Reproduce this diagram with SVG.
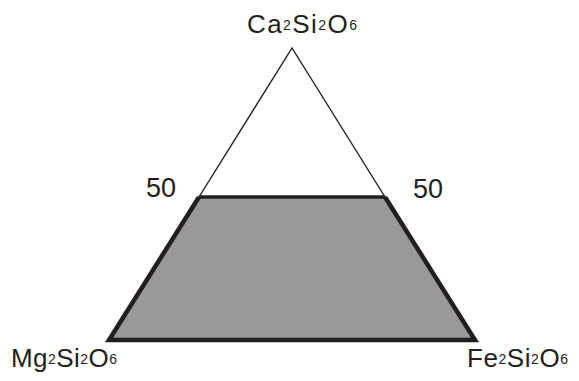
<svg xmlns="http://www.w3.org/2000/svg" width="579" height="381" viewBox="0 0 579 381">
<style>
text{font-family:"Liberation Sans",Arial,sans-serif;fill:#231f20}
.lab{font-size:26px}
.sub{font-size:14px}
.num{font-size:27px}
.edge{fill:none;stroke:#231f20}
</style>
<rect width="579" height="381" fill="#fff"/>
<g id="field">
<polygon points="199,197 385,197 475,340 109,340" fill="#999999"/>
</g>
<g id="connectors">
<polyline class="edge" points="199,197 109,340 475,340 385,197" stroke-width="4.5" stroke-linejoin="miter"/>
<line class="edge" x1="199" y1="197" x2="385" y2="197" stroke-width="3.5"/>
<polyline class="edge" points="199,197 292,48 385,197" stroke-width="1.4"/>
</g>
<g id="top"><text x="247" y="33" class="lab" textLength="110" lengthAdjust="spacing">Ca<tspan class="sub" dy="-3">2</tspan><tspan dy="3">Si</tspan><tspan class="sub" dy="-3">2</tspan><tspan dy="3">O</tspan><tspan class="sub" dy="-3">6</tspan></text></g>
<g id="left"><text x="11" y="367" class="lab" textLength="106" lengthAdjust="spacing">Mg<tspan class="sub" dy="-3">2</tspan><tspan dy="3">Si</tspan><tspan class="sub" dy="-3">2</tspan><tspan dy="3">O</tspan><tspan class="sub" dy="-3">6</tspan></text></g>
<g id="right"><text x="467" y="367" class="lab" textLength="101" lengthAdjust="spacing">Fe<tspan class="sub" dy="-3">2</tspan><tspan dy="3">Si</tspan><tspan class="sub" dy="-3">2</tspan><tspan dy="3">O</tspan><tspan class="sub" dy="-3">6</tspan></text></g>
<g id="l50"><text x="146" y="197" class="num">50</text></g>
<g id="r50"><text x="413" y="198" class="num">50</text></g>
</svg>
